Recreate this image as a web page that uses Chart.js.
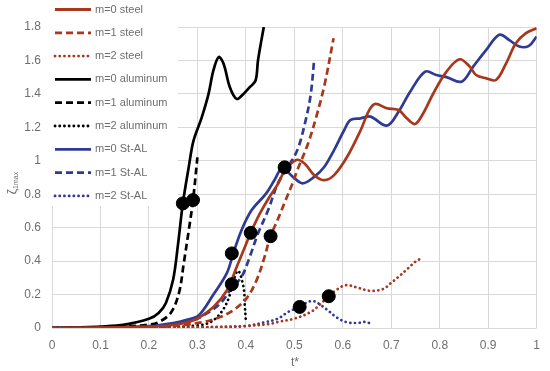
<!DOCTYPE html>
<html>
<head>
<meta charset="utf-8">
<script src="https://cdn.jsdelivr.net/npm/chart.js@4.4.1/dist/chart.umd.min.js"></script>
<style>
	html, body { margin: 0; padding: 0; background: #fff; }
	#wrap { width: 550px; height: 371px; }
</style>
</head>
<body>
<div id="wrap"><canvas id="zeta-chart" width="550" height="371"></canvas></div>
<script>
// series values (t*, zeta_1max)
const steel0T = [0, 0.1, 0.2, 0.25, 0.292, 0.333, 0.361, 0.381, 0.398, 0.41, 0.429, 0.449, 0.466, 0.48, 0.504, 0.521, 0.541, 0.562, 0.582, 0.609, 0.637, 0.654, 0.667, 0.691, 0.715, 0.732, 0.749, 0.766, 0.787, 0.814, 0.841, 0.862, 0.875, 0.896, 0.916, 0.937, 0.957, 0.978, 1.0];
const steel0Y = [0, 0.002, 0.008, 0.018, 0.046, 0.126, 0.226, 0.365, 0.485, 0.57, 0.685, 0.785, 0.86, 0.94, 1.005, 0.984, 0.914, 0.884, 0.914, 1.024, 1.184, 1.3, 1.34, 1.314, 1.304, 1.254, 1.22, 1.284, 1.404, 1.533, 1.607, 1.563, 1.513, 1.493, 1.483, 1.583, 1.703, 1.763, 1.793];

const steel1T = [0, 0.1, 0.2, 0.25, 0.313, 0.347, 0.374, 0.401, 0.422, 0.437, 0.451, 0.466, 0.48, 0.497, 0.507, 0.528, 0.545, 0.562, 0.581];
const steel1Y = [0, 0.001, 0.006, 0.012, 0.036, 0.066, 0.106, 0.176, 0.285, 0.41, 0.549, 0.65, 0.75, 0.87, 0.95, 1.1, 1.26, 1.45, 1.733];

const steel2T = [0, 0.1, 0.2, 0.3, 0.4, 0.45, 0.466, 0.5, 0.534, 0.555, 0.571, 0.586, 0.606, 0.63, 0.657, 0.684, 0.698, 0.715, 0.732, 0.749, 0.758];
const steel2Y = [0, 0, 0.002, 0.005, 0.012, 0.025, 0.036, 0.056, 0.096, 0.146, 0.19, 0.226, 0.256, 0.242, 0.222, 0.234, 0.266, 0.306, 0.35, 0.395, 0.411];

const alum0T = [0, 0.05, 0.1, 0.15, 0.2, 0.22, 0.235, 0.25, 0.26, 0.27, 0.282, 0.292, 0.309, 0.323, 0.333, 0.344, 0.354, 0.367, 0.381, 0.395, 0.408, 0.42, 0.425, 0.432, 0.437];
const alum0Y = [0, 0.003, 0.008, 0.02, 0.055, 0.09, 0.15, 0.29, 0.5, 0.745, 0.96, 1.12, 1.26, 1.4, 1.54, 1.62, 1.58, 1.44, 1.37, 1.4, 1.44, 1.48, 1.6, 1.72, 1.8];

const alum1T = [0, 0.1, 0.15, 0.2, 0.22, 0.245, 0.262, 0.272, 0.282, 0.291, 0.3];
const alum1Y = [0, 0.003, 0.008, 0.02, 0.035, 0.09, 0.21, 0.39, 0.58, 0.765, 1.02];

const alum2T = [0, 0.1, 0.2, 0.3, 0.333, 0.36, 0.383, 0.395, 0.398, 0.4];
const alum2Y = [0, 0.001, 0.003, 0.015, 0.046, 0.146, 0.341, 0.246, 0.126, 0.04];

const stal0T = [0, 0.1, 0.2, 0.25, 0.28, 0.303, 0.333, 0.361, 0.374, 0.391, 0.412, 0.442, 0.46, 0.475, 0.497, 0.517, 0.541, 0.562, 0.582, 0.603, 0.616, 0.637, 0.657, 0.691, 0.715, 0.739, 0.77, 0.793, 0.814, 0.845, 0.869, 0.896, 0.923, 0.943, 0.964, 0.984, 1.0];
const stal0Y = [0, 0.003, 0.012, 0.03, 0.05, 0.076, 0.2, 0.33, 0.446, 0.585, 0.705, 0.805, 0.89, 0.955, 0.904, 0.865, 0.904, 0.964, 1.064, 1.184, 1.244, 1.254, 1.264, 1.21, 1.293, 1.413, 1.533, 1.513, 1.5, 1.473, 1.563, 1.663, 1.753, 1.723, 1.683, 1.687, 1.743];

const stal1T = [0, 0.1, 0.2, 0.25, 0.292, 0.313, 0.347, 0.371, 0.391, 0.408, 0.425, 0.446, 0.466, 0.487, 0.507, 0.524, 0.534, 0.541];
const stal1Y = [0, 0.002, 0.008, 0.02, 0.046, 0.076, 0.146, 0.24, 0.305, 0.425, 0.565, 0.705, 0.865, 0.964, 1.07, 1.25, 1.4, 1.607];

const stal2T = [0, 0.1, 0.2, 0.3, 0.35, 0.4, 0.44, 0.466, 0.487, 0.511, 0.528, 0.541, 0.555, 0.569, 0.586, 0.606, 0.63, 0.647, 0.661];
const stal2Y = [0, 0, 0.001, 0.003, 0.005, 0.012, 0.035, 0.056, 0.096, 0.126, 0.156, 0.16, 0.136, 0.106, 0.066, 0.036, 0.03, 0.036, 0.022];

// black circle markers
const markerT = [0.27, 0.291, 0.371, 0.371, 0.41, 0.451, 0.48, 0.511, 0.571];
const markerY = [0.745, 0.765, 0.446, 0.262, 0.569, 0.549, 0.961, 0.126, 0.19];

// axis ticks
const xTicks = [0, 0.1, 0.2, 0.3, 0.4, 0.5, 0.6, 0.7, 0.8, 0.9, 1];
const yTicks = [0, 0.2, 0.4, 0.6, 0.8, 1, 1.2, 1.4, 1.6, 1.8];

const seriesNames = ["m=0 steel", "m=1 steel", "m=2 steel", "m=0 aluminum", "m=1 aluminum", "m=2 aluminum", "m=0 St-AL", "m=1 St-AL", "m=2 St-AL"];

const steelColor = "#a8381c";
const alumColor = "#000000";
const stalColor = "#2e3a94";
const dashed = [7, 4];
const dotted = [0.1, 4.6];

const seriesStyles = [
	{ t: steel0T, y: steel0Y, color: steelColor, dash: [] },
	{ t: steel1T, y: steel1Y, color: steelColor, dash: dashed },
	{ t: steel2T, y: steel2Y, color: steelColor, dash: dotted },
	{ t: alum0T, y: alum0Y, color: alumColor, dash: [] },
	{ t: alum1T, y: alum1Y, color: alumColor, dash: dashed },
	{ t: alum2T, y: alum2Y, color: alumColor, dash: dotted },
	{ t: stal0T, y: stal0Y, color: stalColor, dash: [] },
	{ t: stal1T, y: stal1Y, color: stalColor, dash: dashed },
	{ t: stal2T, y: stal2Y, color: stalColor, dash: dotted },
];

const toPoints = (ts, ys) => ts.map((t, i) => ({ x: t, y: ys[i] }));

const datasets = [
	{
		label: "markers",
		data: toPoints(markerT, markerY),
		showLine: false,
		pointRadius: 6.5,
		pointBackgroundColor: "#000",
		pointBorderColor: "#000",
		order: -1,
	},
];

seriesStyles.forEach((s, i) => {
	datasets.push({
		label: seriesNames[i],
		data: toPoints(s.t, s.y),
		showLine: true,
		borderColor: s.color,
		borderWidth: 2.7,
		borderDash: s.dash,
		borderCapStyle: s.dash === dotted ? "round" : "butt",
		pointRadius: 0,
		tension: 0.35,
		fill: false,
	});
});

const textGrey = "#6e6e6e";
const fontFamily = "'Liberation Sans', Arial, sans-serif";

// legend drawn inside the plot, top-left, on white
const legendBox = {
	id: "legendBox",
	beforeDatasetsDraw(chart) {
		const ctx = chart.ctx;
		ctx.save();
		ctx.fillStyle = "#fff";
		ctx.fillRect(47, 0, 131, 206);
		ctx.restore();
	},
	afterDraw(chart) {
		const ctx = chart.ctx;
		ctx.save();
		seriesStyles.forEach((s, i) => {
			const y = 9.5 + i * 23.3;
			ctx.beginPath();
			ctx.strokeStyle = s.color;
			ctx.lineWidth = 2.8;
			ctx.setLineDash(s.dash);
			ctx.lineCap = s.dash === dotted ? "round" : "butt";
			ctx.moveTo(55, y);
			ctx.lineTo(91, y);
			ctx.stroke();
			ctx.setLineDash([]);
			ctx.fillStyle = textGrey;
			ctx.font = "11px " + fontFamily;
			ctx.textBaseline = "middle";
			ctx.textAlign = "left";
			ctx.fillText(seriesNames[i], 95, y);
		});

		// axis titles
		ctx.font = "12px " + fontFamily;
		ctx.textAlign = "center";
		ctx.fillText("t*", 295, 363);

		ctx.translate(13, 183);
		ctx.rotate(-Math.PI / 2);
		ctx.textAlign = "left";
		ctx.font = "12px " + fontFamily;
		const zw = ctx.measureText("ζ").width;
		ctx.font = "7px " + fontFamily;
		const sw = ctx.measureText("1max").width;
		const x0 = -(zw + sw) / 2;
		ctx.font = "12px " + fontFamily;
		ctx.fillText("ζ", x0, 0);
		ctx.font = "7px " + fontFamily;
		ctx.fillText("1max", x0 + zw, 3);
		ctx.restore();
	},
};

const zetaCanvas = document.getElementById("zeta-chart");

const zetaChart = new Chart(zetaCanvas, {
	type: "scatter",
	data: { datasets: datasets },
	options: {
		responsive: false,
		animation: false,
		devicePixelRatio: 1,
		layout: { padding: { top: 27, right: 9, left: 0, bottom: 0 } },
		plugins: {
			legend: { display: false },
			tooltip: { enabled: false },
		},
		scales: {
			x: {
				type: "linear",
				min: 0,
				max: 1,
				afterBuildTicks: (scale) => {
					scale.ticks = xTicks.map((v) => ({ value: v }));
				},
				afterFit: (scale) => {
					scale.height = 43;
				},
				ticks: {
					color: textGrey,
					font: { size: 12, family: fontFamily },
					padding: 10,
					maxRotation: 0,
					callback: (v) => String(Number(v.toFixed(1))),
				},
				grid: { color: "#d9d9d9", lineWidth: 1, drawTicks: false },
				border: { display: false },
			},
			y: {
				min: 0,
				max: 1.8,
				afterBuildTicks: (scale) => {
					scale.ticks = yTicks.map((v) => ({ value: v }));
				},
				afterFit: (scale) => {
					scale.width = 52;
				},
				ticks: {
					color: textGrey,
					font: { size: 12, family: fontFamily },
					padding: 11,
					callback: (v) => String(Number(v.toFixed(1))),
				},
				grid: { color: "#d9d9d9", lineWidth: 1, drawTicks: false },
				border: { display: false },
			},
		},
	},
	plugins: [legendBox],
});
</script>
</body>
</html>
